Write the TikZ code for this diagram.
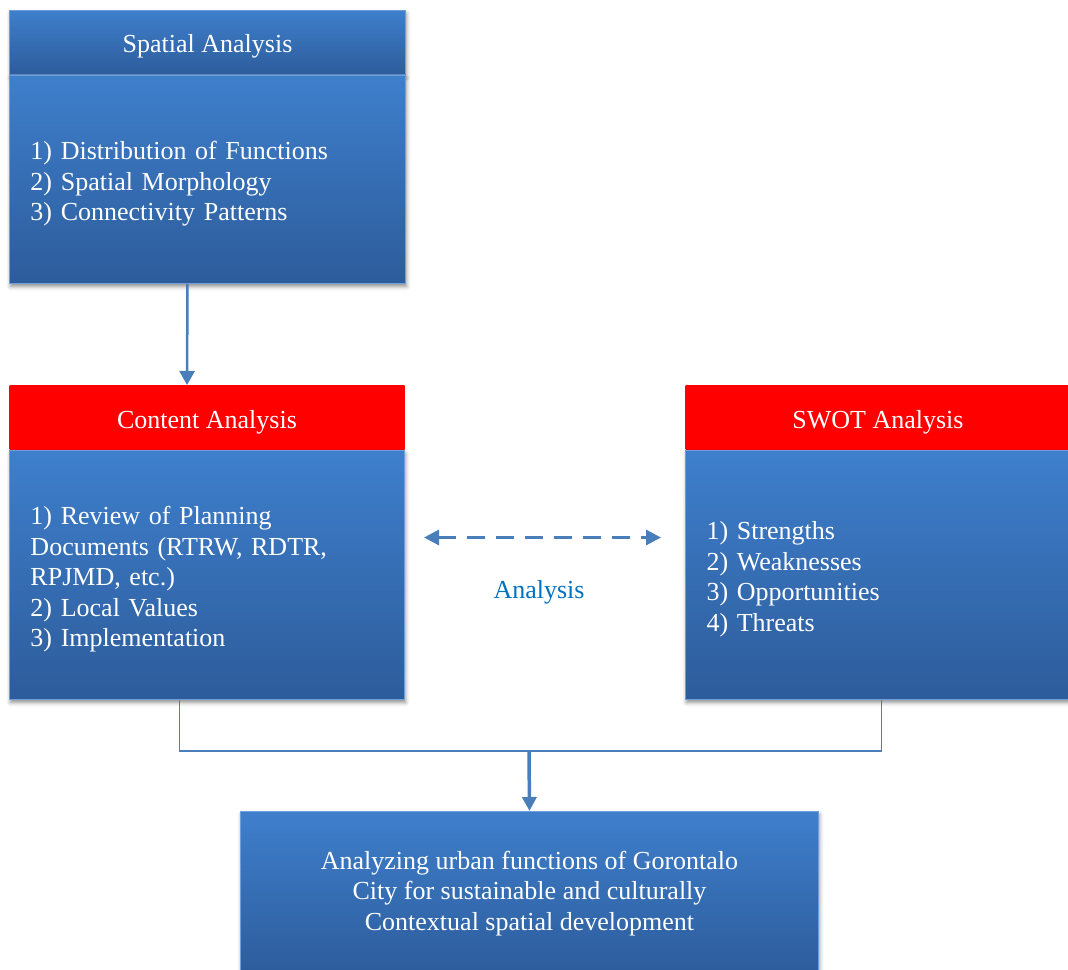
\documentclass[tikz,border=0pt]{standalone}
\usepackage{fontspec}
\setmainfont{Liberation Serif}
\usetikzlibrary{positioning, arrows.meta, shadows.blur}

\definecolor{boxtop}{RGB}{62,127,204}
\definecolor{boxbot}{RGB}{45,92,155}
\definecolor{boxedge}{RGB}{112,158,218}
\definecolor{linkblue}{RGB}{74,126,187}
\definecolor{labelblue}{RGB}{0,112,192}

\newcommand{\lift}{\rule{0pt}{27pt}}

\tikzset{
  panel/.style={draw=boxedge, line width=1pt, top color=boxtop, bottom color=boxbot,
    text=white, anchor=north west, inner ysep=0pt, inner xsep=21pt, align=left,
    font=\fontsize{26}{30.5}\selectfont,
    blur shadow={shadow xshift=1pt, shadow yshift=-3pt, shadow blur radius=4pt, shadow opacity=45}},
  bluehead/.style={panel, align=center, inner xsep=0pt, text height=22pt, text depth=2pt},
  redhead/.style={bluehead, draw=none, top color=red, bottom color=red, blur shadow={shadow opacity=0}},
  link/.style={draw=linkblue, line width=1.3pt},
  bigtip/.style={-{Triangle[width=15pt, length=14pt]}}
}

\begin{document}
\begin{tikzpicture}[x=1pt, y=-1pt]
	\useasboundingbox (0,0) rectangle (1068,969);
	
	% spatial analysis
	\node[bluehead, minimum width=396pt, minimum height=64pt] (shead) at (9,10) {Spatial Analysis};
	\node[panel, minimum height=208pt, text width=354pt, below=0pt of shead.south west, anchor=north west] (sbody)
		{\lift 1) Distribution of Functions\\2) Spatial Morphology\\3) Connectivity Patterns};
	
	% content analysis
	\node[redhead, minimum width=395pt, minimum height=64pt, text height=23pt] (chead) at (9,385) {Content Analysis};
	\node[panel, minimum height=249pt, text width=353pt, below=0pt of chead.south west, anchor=north west] (cbody)
		{\lift 1) Review of Planning\\Documents (RTRW, RDTR,\\RPJMD, etc.)\\2) Local Values\\3) Implementation};
	
	% swot analysis
	\node[redhead, minimum width=385pt, minimum height=64pt, text height=23pt] (whead) at (685,385) {SWOT Analysis};
	\node[panel, minimum height=249pt, text width=343pt, below=0pt of whead.south west, anchor=north west] (wbody)
		{\lift 1) Strengths\\2) Weaknesses\\3) Opportunities\\4) Threats};
	
	% result
	\node[panel, align=center, minimum width=578pt, minimum height=164pt, inner xsep=0pt] (result) at (240,811)
		{Analyzing urban functions of Gorontalo\\City for sustainable and culturally\\Contextual spatial development};
	
	\node[text=labelblue, font=\fontsize{26}{30.5}\selectfont] (lbl) at (539,592) {Analysis};
	
	\coordinate (join) at (529,751);
	
	\draw[link, line width=2.5pt, bigtip] ([xshift=-20pt]sbody.south) -- ([xshift=-20pt]chead.north);
	\draw[link, line width=3pt, dash pattern=on 18pt off 11pt, {Triangle[width=15pt, length=15pt]}-{Triangle[width=15pt, length=15pt]},
		shorten <=19pt, shorten >=24pt] ([yshift=37.5pt]cbody.east) -- ([yshift=37.5pt]wbody.west);
	\draw[link] ([xshift=-27.5pt]cbody.south) |- (join) -| ([xshift=3.5pt]wbody.south);
	\draw[link, line width=3.5pt, -{Triangle[width=14pt, length=14pt]}] (join) -- (result.north);
\end{tikzpicture}
\end{document}
